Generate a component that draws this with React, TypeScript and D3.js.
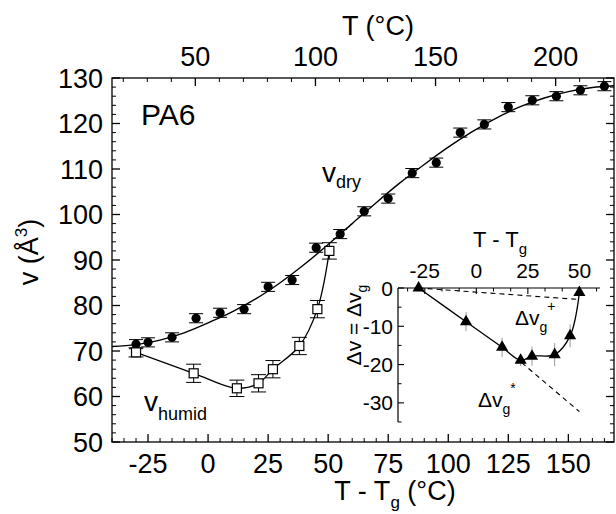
import React from "react";
import * as d3 from "d3";

// ---- data ----
const dryX = [-30, -25, -15, -5, 5, 15, 25, 35, 45, 55, 65, 75, 85, 95, 105, 115, 125, 135, 145, 155, 165];
const dryV = [71.5, 71.9, 73.0, 77.2, 78.4, 79.2, 84.1, 85.6, 92.7, 95.7, 100.7, 103.5, 109.1, 111.4, 118.0, 119.8, 123.6, 125.1, 126.0, 127.3, 128.2];
const dryErr = [1, 1, 1, 1, 1, 1, 1, 1, 1, 1, 1, 1, 1, 1, 1, 1, 1, 1, 1, 1, 1];

const fitX = [-40, -30, -20, -10, 0, 10, 20, 30, 40, 50, 60, 70, 80, 90, 100, 110, 120, 130, 140, 150, 160, 169];
const fitV = [71.0, 71.4, 72.4, 74.0, 76.2, 78.6, 81.5, 85.0, 89.0, 93.4, 98.0, 102.6, 107.0, 111.0, 114.8, 118.2, 121.2, 123.7, 125.6, 127.0, 127.9, 128.3];

const humidX = [-30, -6, 12, 21, 27, 38, 45.5, 50.5];
const humidV = [69.7, 65.1, 61.8, 62.9, 66.0, 71.1, 79.2, 92.0];
const humidErr = [1.0, 2.0, 1.8, 1.9, 1.9, 1.9, 1.9, 1.8];

const insetX = [-28, -5, 12.5, 21.5, 27, 38, 45.5, 50];
const insetDv = [0, -8.8, -15.5, -18.9, -17.8, -17.4, -12.5, -1.2];
const insetErr = [0, 2.5, 2.5, 1.5, 2.5, 3, 3, 0];

const dashPlusX = [-28, 50];
const dashPlusY = [0, -3];
const dashStarX = [22, 50];
const dashStarY = [-19.5, -32.3];

const xTicks = [-25, 0, 25, 50, 75, 100, 125, 150];
const yTicks = [50, 60, 70, 80, 90, 100, 110, 120, 130];
const topTicks = [50, 100, 150, 200];
const insetXTicks = [-25, 0, 25, 50];
const insetYTicks = [0, -10, -20, -30];
const Tg = 55.3;

const FONT = "'Liberation Sans', Arial, Helvetica, sans-serif";

export default function App() {
  const L = 112, R = 614, T = 78, B = 442;
  const x = d3.scaleLinear().domain([-40, 169]).range([L, R]);
  const y = d3.scaleLinear().domain([50, 130]).range([B, T]);
  const xTop = d3.scaleLinear().domain([-40 + Tg, 169 + Tg]).range([L, R]);

  const iL = 398, iR = 600, iT = 288, iB = 422;
  const ix = d3.scaleLinear().domain([-38, 60]).range([iL, iR]);
  const iy = d3.scaleLinear().domain([-35, 0]).range([iB, iT]);

  const fitLine = d3.line<number>().x((d) => x(fitX[d])).y((d) => y(fitV[d])).curve(d3.curveMonotoneX);
  const humidLine = d3.line<number>().x((d) => x(humidX[d])).y((d) => y(humidV[d])).curve(d3.curveCatmullRom.alpha(0.5));
  const insetLine = d3.line<number>().x((d) => ix(insetX[d])).y((d) => iy(insetDv[d])).curve(d3.curveCatmullRom.alpha(0.5));
  const tri = d3.symbol().type(d3.symbolTriangle).size(64)();

  const xMinor = d3.range(-40, 170, 5).filter((v) => v % 25 !== 0);
  const yMinor = d3.range(50, 131, 2).filter((v) => v % 10 !== 0);
  const topMinor = d3.range(20, 225, 10).filter((v) => v % 50 !== 0 && v >= -40 + Tg && v <= 169 + Tg);
  const iyMinor = d3.range(-35, 1, 5).filter((v) => v % 10 !== 0);
  const ixMinor = d3.range(-25 - 25 / 3, 60, 25 / 3).filter((v) => Math.abs(v % 25) > 0.01 && Math.abs(Math.abs(v % 25) - 25) > 0.01 && v >= -38);

  const major = 8, minor = 4;
  const sw = 1.3;
  const tf = 27;

  return (
    <svg width={616} height={514} style={{ position: "absolute", left: 0, top: 0, background: "#fff" }} fontFamily={FONT}>
      <rect x={0} y={0} width={616} height={514} fill="#fff" />
      {/* frame */}
      <rect x={L} y={T} width={R - L} height={B - T} fill="none" stroke="#000" strokeWidth={sw} />
      {/* bottom ticks */}
      {xTicks.map((v) => (
        <line key={"xb" + v} x1={x(v)} x2={x(v)} y1={B} y2={B - major} stroke="#000" strokeWidth={sw} />
      ))}
      {xMinor.map((v) => (
        <line key={"xbm" + v} x1={x(v)} x2={x(v)} y1={B} y2={B - minor} stroke="#000" strokeWidth={1} />
      ))}
      {xTicks.map((v) => (
        <text key={"xl" + v} x={x(v)} y={473} fontSize={tf} textAnchor="middle">{v}</text>
      ))}
      {/* top ticks */}
      {topTicks.map((v) => (
        <line key={"xt" + v} x1={xTop(v)} x2={xTop(v)} y1={T} y2={T + major} stroke="#000" strokeWidth={sw} />
      ))}
      {topMinor.map((v) => (
        <line key={"xtm" + v} x1={xTop(v)} x2={xTop(v)} y1={T} y2={T + minor} stroke="#000" strokeWidth={1} />
      ))}
      {topTicks.map((v) => (
        <text key={"tl" + v} x={xTop(v)} y={66} fontSize={tf} textAnchor="middle">{v}</text>
      ))}
      {/* left / right ticks */}
      {yTicks.map((v) => (
        <g key={"y" + v}>
          <line x1={L} x2={L + major} y1={y(v)} y2={y(v)} stroke="#000" strokeWidth={sw} />
          <line x1={R} x2={R - major} y1={y(v)} y2={y(v)} stroke="#000" strokeWidth={sw} />
          <text x={103} y={y(v)} dy="0.36em" fontSize={tf} textAnchor="end">{v}</text>
        </g>
      ))}
      {yMinor.map((v) => (
        <g key={"ym" + v}>
          <line x1={L} x2={L + minor} y1={y(v)} y2={y(v)} stroke="#000" strokeWidth={1} />
          <line x1={R} x2={R - minor} y1={y(v)} y2={y(v)} stroke="#000" strokeWidth={1} />
        </g>
      ))}
      {/* axis titles */}
      <text x={378} y={35} fontSize={tf} textAnchor="middle">T (°C)</text>
      <text x={395} y={500} fontSize={tf} textAnchor="middle">
        T - T<tspan dy={8} fontSize={17}>g</tspan><tspan dy={-8}> (°C)</tspan>
      </text>
      <text transform="translate(38,252) rotate(-90)" fontSize={tf} textAnchor="middle">
        v (Å<tspan dy={-11} fontSize={17}>3</tspan><tspan dy={11}>)</tspan>
      </text>

      {/* fit curve */}
      <path d={fitLine(d3.range(fitX.length)) || ""} fill="none" stroke="#000" strokeWidth={1.4} />
      {/* humid curve */}
      <path d={humidLine(d3.range(humidX.length)) || ""} fill="none" stroke="#000" strokeWidth={1.3} />

      {/* dry points */}
      {dryX.map((v, i) => (
        <g key={"d" + i}>
          <line x1={x(v)} x2={x(v)} y1={y(dryV[i] - dryErr[i])} y2={y(dryV[i] + dryErr[i])} stroke="#000" strokeWidth={1} />
          <line x1={x(v) - 7} x2={x(v) + 7} y1={y(dryV[i] - dryErr[i])} y2={y(dryV[i] - dryErr[i])} stroke="#000" strokeWidth={1} />
          <line x1={x(v) - 7} x2={x(v) + 7} y1={y(dryV[i] + dryErr[i])} y2={y(dryV[i] + dryErr[i])} stroke="#000" strokeWidth={1} />
          <circle cx={x(v)} cy={y(dryV[i])} r={4.6} fill="#000" />
        </g>
      ))}
      {/* humid points */}
      {humidX.map((v, i) => (
        <g key={"h" + i}>
          <line x1={x(v)} x2={x(v)} y1={y(humidV[i] - humidErr[i])} y2={y(humidV[i] + humidErr[i])} stroke="#000" strokeWidth={1} />
          <line x1={x(v) - 7.5} x2={x(v) + 7.5} y1={y(humidV[i] - humidErr[i])} y2={y(humidV[i] - humidErr[i])} stroke="#000" strokeWidth={1} />
          <line x1={x(v) - 7.5} x2={x(v) + 7.5} y1={y(humidV[i] + humidErr[i])} y2={y(humidV[i] + humidErr[i])} stroke="#000" strokeWidth={1} />
          <rect x={x(v) - 4.5} y={y(humidV[i]) - 4.5} width={9} height={9} fill="#fff" stroke="#000" strokeWidth={1.2} />
        </g>
      ))}

      {/* labels */}
      <text x={141} y={125} fontSize={30}>PA6</text>
      <text x={322} y={182} fontSize={28}>v<tspan dy={6} fontSize={18}>dry</tspan></text>
      <text x={144} y={411} fontSize={28}>v<tspan dy={9} fontSize={18}>humid</tspan></text>

      {/* inset */}
      <line x1={iL} x2={iR} y1={iT} y2={iT} stroke="#000" strokeWidth={1.2} />
      <line x1={iL} x2={iL} y1={iT} y2={iB} stroke="#000" strokeWidth={1.2} />
      {insetXTicks.map((v) => (
        <g key={"ix" + v}>
          <line x1={ix(v)} x2={ix(v)} y1={iT} y2={iT + 6} stroke="#000" strokeWidth={1.1} />
          <text x={ix(v)} y={278} fontSize={21} textAnchor="middle">{v}</text>
        </g>
      ))}
      {ixMinor.map((v, i) => (
        <line key={"ixm" + i} x1={ix(v)} x2={ix(v)} y1={iT} y2={iT + 3.5} stroke="#000" strokeWidth={1} />
      ))}
      {insetYTicks.map((v) => (
        <g key={"iy" + v}>
          <line x1={iL} x2={iL + 6} y1={iy(v)} y2={iy(v)} stroke="#000" strokeWidth={1.1} />
          <text x={393} y={iy(v)} dy="0.36em" fontSize={21} textAnchor="end">{v}</text>
        </g>
      ))}
      {iyMinor.map((v) => (
        <line key={"iym" + v} x1={iL} x2={iL + 3.5} y1={iy(v)} y2={iy(v)} stroke="#000" strokeWidth={1} />
      ))}
      <text x={500} y={247} fontSize={22} textAnchor="middle">
        T - T<tspan dy={7} fontSize={15}>g</tspan>
      </text>
      <text transform="translate(361,325) rotate(-90)" fontSize={21} textAnchor="middle">
        Δv = Δv<tspan dy={6} fontSize={14}>g</tspan>
      </text>
      {/* dashed constructions */}
      <line x1={ix(dashPlusX[0])} y1={iy(dashPlusY[0])} x2={ix(dashPlusX[1])} y2={iy(dashPlusY[1])} stroke="#000" strokeWidth={1.1} strokeDasharray="5,4" />
      <line x1={ix(dashStarX[0])} y1={iy(dashStarY[0])} x2={ix(dashStarX[1])} y2={iy(dashStarY[1])} stroke="#000" strokeWidth={1.1} strokeDasharray="5,4" />
      {/* inset error bars (faint) */}
      {insetX.map((v, i) =>
        insetErr[i] > 0 ? (
          <line key={"ie" + i} x1={ix(v)} x2={ix(v)} y1={iy(insetDv[i] - insetErr[i])} y2={iy(insetDv[i] + insetErr[i])} stroke="#999" strokeWidth={1} />
        ) : null
      )}
      <path d={insetLine(d3.range(insetX.length)) || ""} fill="none" stroke="#000" strokeWidth={1.3} />
      {insetX.map((v, i) => (
        <path key={"it" + i} d={tri || ""} transform={`translate(${ix(v)},${iy(insetDv[i])})`} fill="#000" />
      ))}
      <text x={515} y={325} fontSize={21}>
        Δv<tspan dy={7} fontSize={14}>g</tspan><tspan dy={-21} fontSize={14}>+</tspan>
      </text>
      <text x={478} y={407} fontSize={21}>
        Δv<tspan dy={7} fontSize={14}>g</tspan><tspan dy={-21} fontSize={14}>*</tspan>
      </text>
    </svg>
  );
}
